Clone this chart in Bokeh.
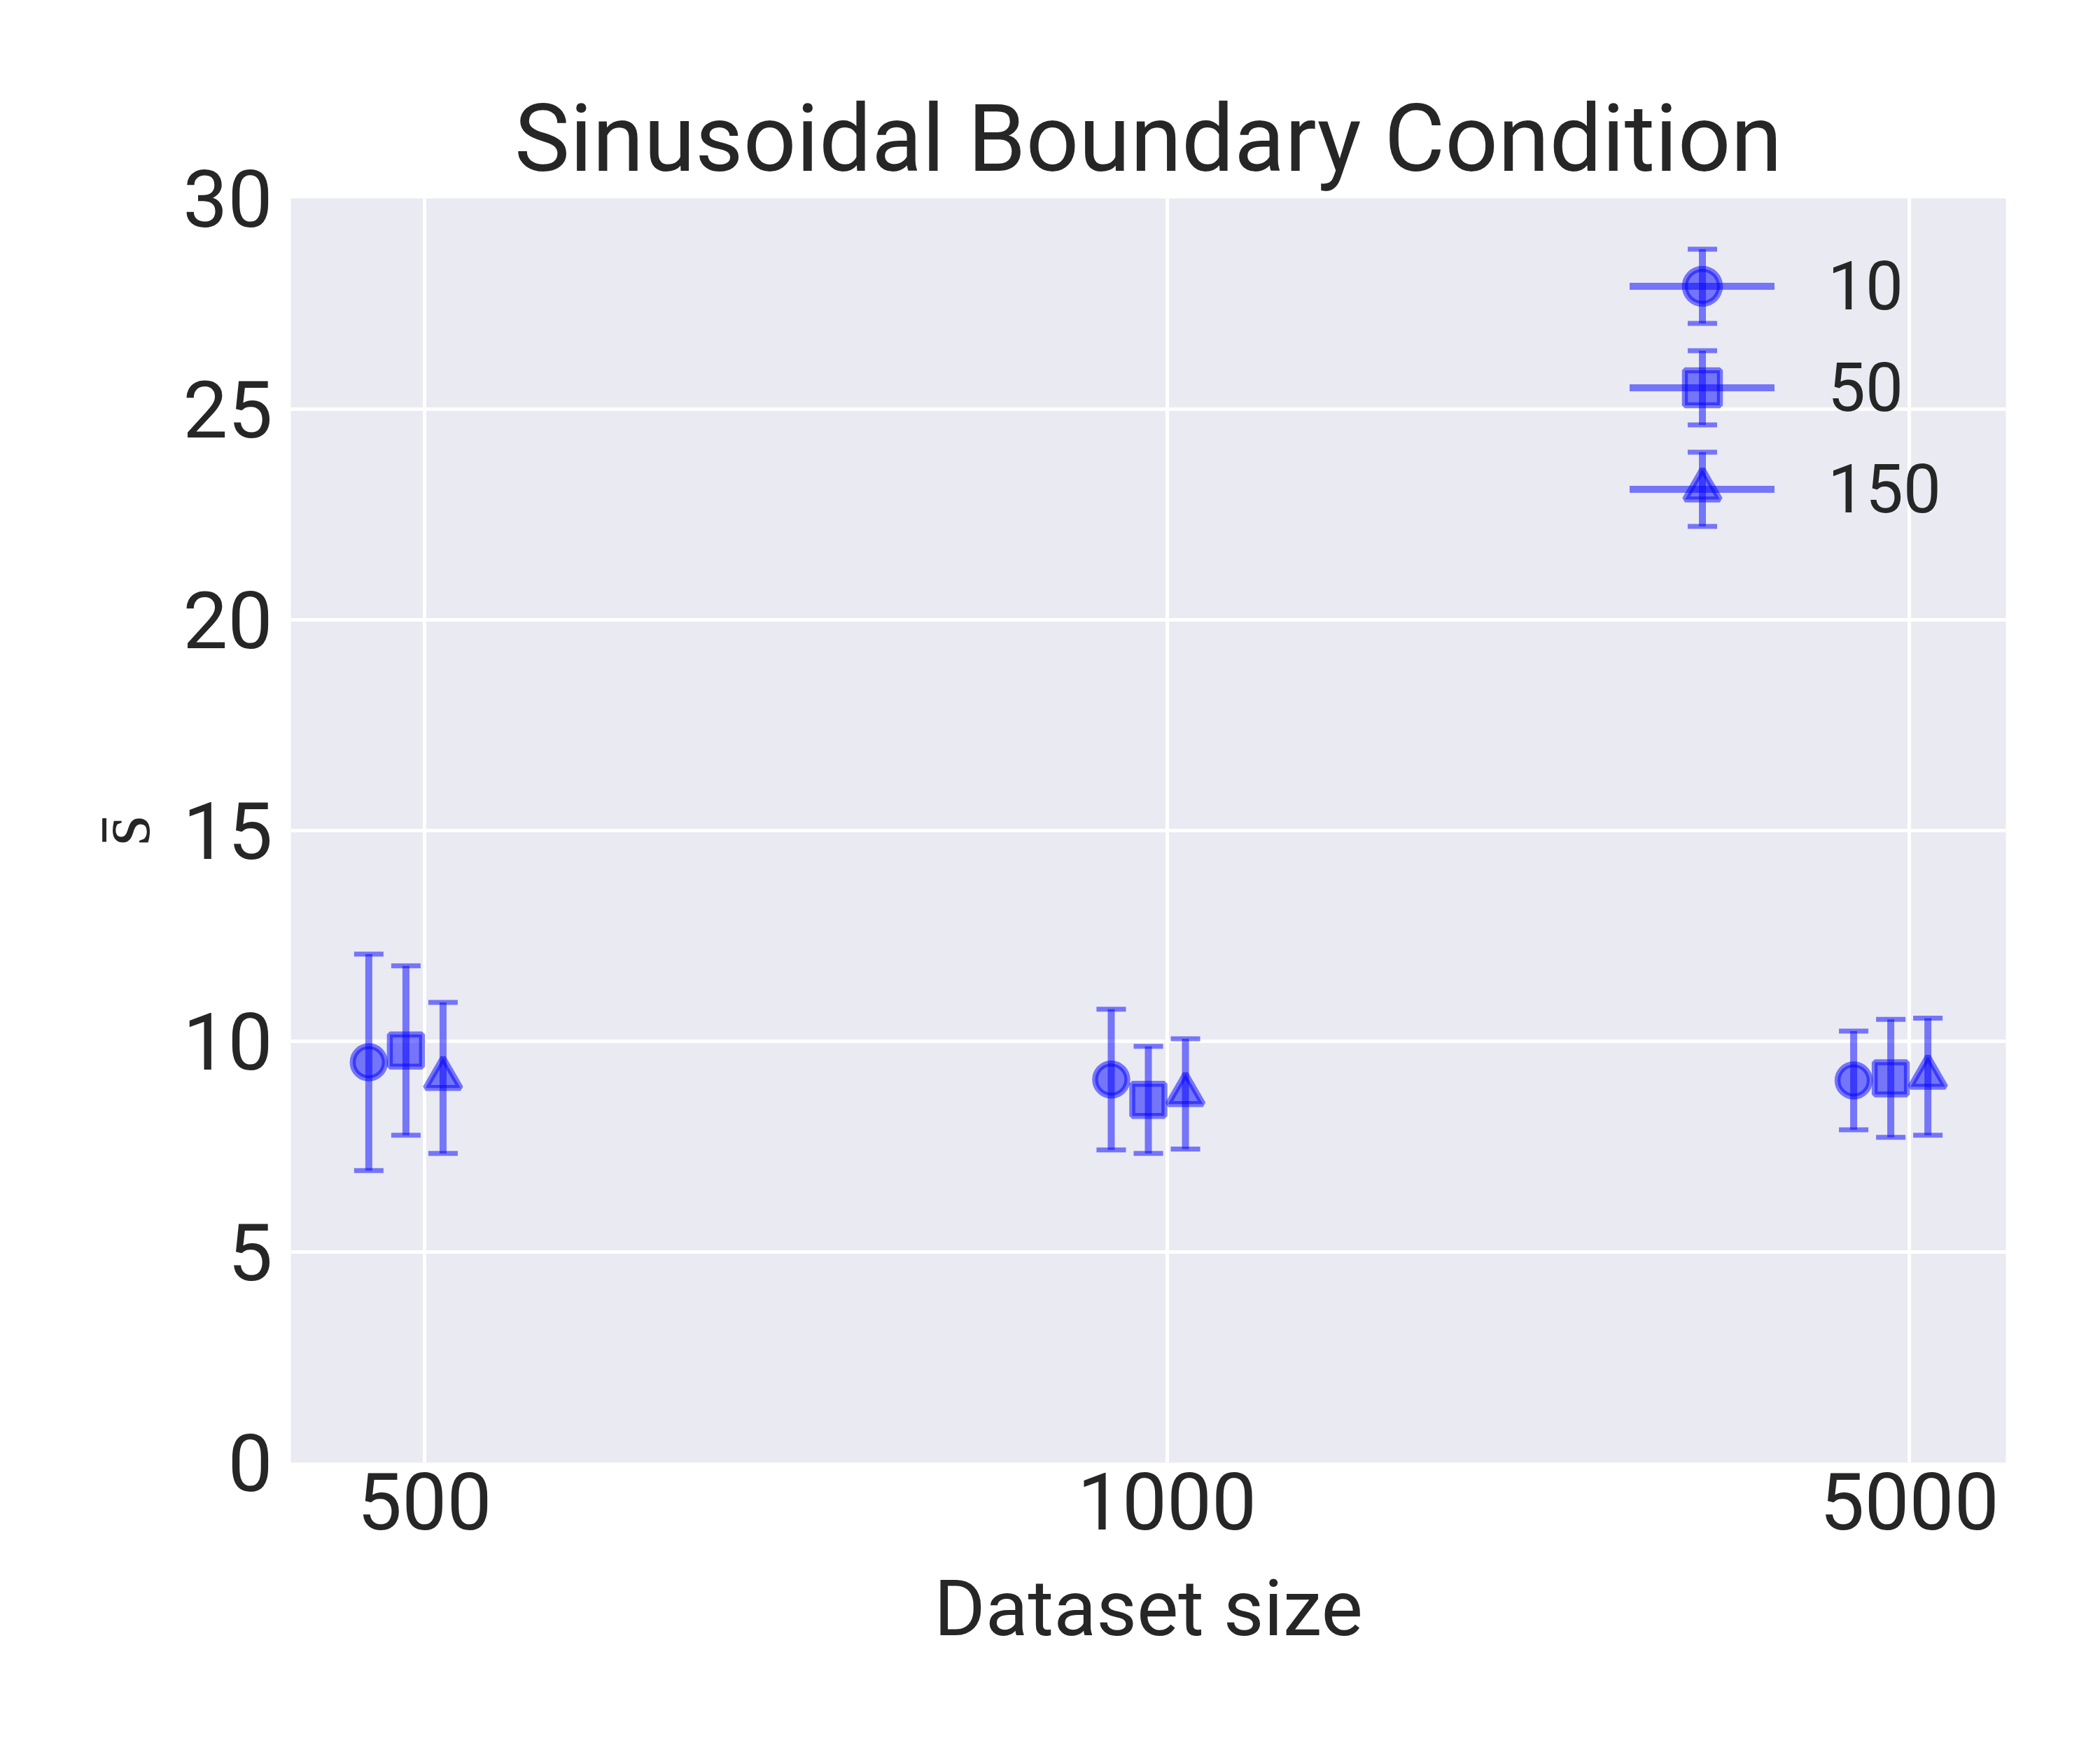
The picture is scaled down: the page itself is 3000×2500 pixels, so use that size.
import math
from bokeh.plotting import figure
from bokeh.models import (Range1d, FixedTicker, Legend, LegendItem, ColumnDataSource,
                          BoxAnnotation)
from bokeh.embed import file_html
from bokeh.resources import INLINE

# ---- data ----
dataset_sizes = ["500", "1000", "5000"]
series_labels = ["10", "50", "150"]
series_markers = ["circle", "square", "triangle"]
x_offsets = [-0.075, -0.025, 0.025]

mean_10 = [9.50, 9.09, 9.07]
err_10 = [2.57, 1.67, 1.17]
mean_50 = [9.78, 8.61, 9.12]
err_50 = [2.01, 1.27, 1.40]
mean_150 = [9.13, 8.75, 9.16]
err_150 = [1.79, 1.31, 1.39]

y_ticks = [0, 5, 10, 15, 20, 25, 30]

title_text = "Sinusoidal Boundary Condition"
x_label = "Dataset size"
y_label = "s\u0304"

FONT = "Roboto"
TEXT = "#262626"
BLUE = "blue"

W, H = 2984, 2484
FL, FR, FT, FB = 415, 2865, 283, 2089
p = figure(width=W, height=H, output_backend="svg", toolbar_location=None,
           x_range=Range1d(-0.18, 2.13), y_range=Range1d(0, 30),
           min_border_left=FL, min_border_right=W - FR,
           min_border_top=FT, min_border_bottom=H - FB)

p.background_fill_color = "#EAEAF2"
p.border_fill_color = "white"
p.outline_line_color = None

p.title.text = title_text
p.title.align = "center"
p.title.text_font = FONT
p.title.text_font_size = "133px"
p.title.text_font_style = "normal"
p.title.text_color = TEXT
p.title.standoff = 16

p.xaxis.ticker = FixedTicker(ticks=list(range(len(dataset_sizes))))
p.xaxis.major_label_overrides = {i: s for i, s in enumerate(dataset_sizes)}
p.yaxis.ticker = FixedTicker(ticks=y_ticks)

for ax in (p.xaxis[0], p.yaxis[0]):
    ax.axis_line_color = None
    ax.major_tick_line_color = None
    ax.minor_tick_line_color = None
    ax.major_tick_out = 0
    ax.major_tick_in = 0
    ax.major_label_text_font = FONT
    ax.major_label_text_font_size = "114px"
    ax.major_label_text_color = TEXT
    ax.axis_label_text_font = FONT
    ax.axis_label_text_font_size = "112px"
    ax.axis_label_text_font_style = "normal"
    ax.axis_label_text_color = TEXT

p.xaxis.axis_label = x_label
p.yaxis.axis_label = y_label
p.yaxis.axis_label_text_font_size = "110px"
p.xaxis.major_label_standoff = 14
p.xaxis.axis_label_standoff = 44
p.yaxis.major_label_standoff = 26
p.yaxis.axis_label_standoff = 18

p.grid.grid_line_color = "white"
p.grid.grid_line_width = 5

legend_items = []
all_means = [mean_10, mean_50, mean_150]
all_errs = [err_10, err_50, err_150]
for lab, mk, off, means, errs in zip(series_labels, series_markers, x_offsets, all_means, all_errs):
    xs = [i + off for i in range(len(dataset_sizes))]
    lo = [m - e for m, e in zip(means, errs)]
    hi = [m + e for m, e in zip(means, errs)]
    src = ColumnDataSource(dict(x=xs, y=means, lo=lo, hi=hi))
    p.segment(x0="x", y0="lo", x1="x", y1="hi", source=src,
              line_color=BLUE, line_alpha=0.5, line_width=10)
    p.scatter(x="x", y="lo", marker="dash", size=42, source=src,
              line_color=BLUE, line_alpha=0.5, line_width=7)
    p.scatter(x="x", y="hi", marker="dash", size=42, source=src,
              line_color=BLUE, line_alpha=0.5, line_width=7)
    sc = p.scatter(x="x", y="y", marker=mk, size=(50 if mk == "triangle" else 46), source=src,
                   fill_color=BLUE, fill_alpha=0.5,
                   line_color=BLUE, line_alpha=0.5, line_width=8.5)
    lx, ly = [], []
    for xv, mv in zip(xs, means):
        lx += [xv, math.nan]
        ly += [mv, math.nan]
    ln = p.line(lx, ly, line_color=BLUE, line_alpha=0.5, line_width=10, line_cap="round")
    legend_items.append(LegendItem(label=lab, renderers=[ln, sc]))

# legend layout parameters
LG_X, LG_Y = 1913, 1328          # legend bottom-left, frame-relative screen units
GW, GH, SP = 207, 125, 20
legend = Legend(items=legend_items, location=(LG_X, LG_Y), orientation="vertical",
                glyph_width=GW, glyph_height=GH, spacing=SP, padding=0, margin=0,
                label_standoff=76, label_text_font=FONT, label_text_font_size="96px",
                label_text_color=TEXT, label_text_baseline="middle",
                background_fill_alpha=0, border_line_alpha=0)
p.add_layout(legend)

# vertical error-bar symbols inside the legend glyphs (frame-relative screen units)
n_items = len(series_labels)
legend_h = n_items * GH + (n_items - 1) * SP
cx = LG_X + GW / 2
BAR_HALF, BAR_W, CAP_W, CAP_T = 53, 10, 42, 7
for r in range(n_items):
    cy = LG_Y + legend_h - GH / 2 - r * (GH + SP)
    boxes = [
        (cx - BAR_W / 2, cx + BAR_W / 2, cy - BAR_HALF, cy + BAR_HALF),
        (cx - CAP_W / 2, cx + CAP_W / 2, cy + BAR_HALF - CAP_T / 2, cy + BAR_HALF + CAP_T / 2),
        (cx - CAP_W / 2, cx + CAP_W / 2, cy - BAR_HALF - CAP_T / 2, cy - BAR_HALF + CAP_T / 2),
    ]
    for (l, rr, b, t) in boxes:
        p.add_layout(BoxAnnotation(left=l, right=rr, bottom=b, top=t,
                                   left_units="screen", right_units="screen",
                                   bottom_units="screen", top_units="screen",
                                   fill_color=BLUE, fill_alpha=0.5, line_color=None,
                                   level="overlay"))

open("out.html", "w").write(file_html(p, INLINE))
